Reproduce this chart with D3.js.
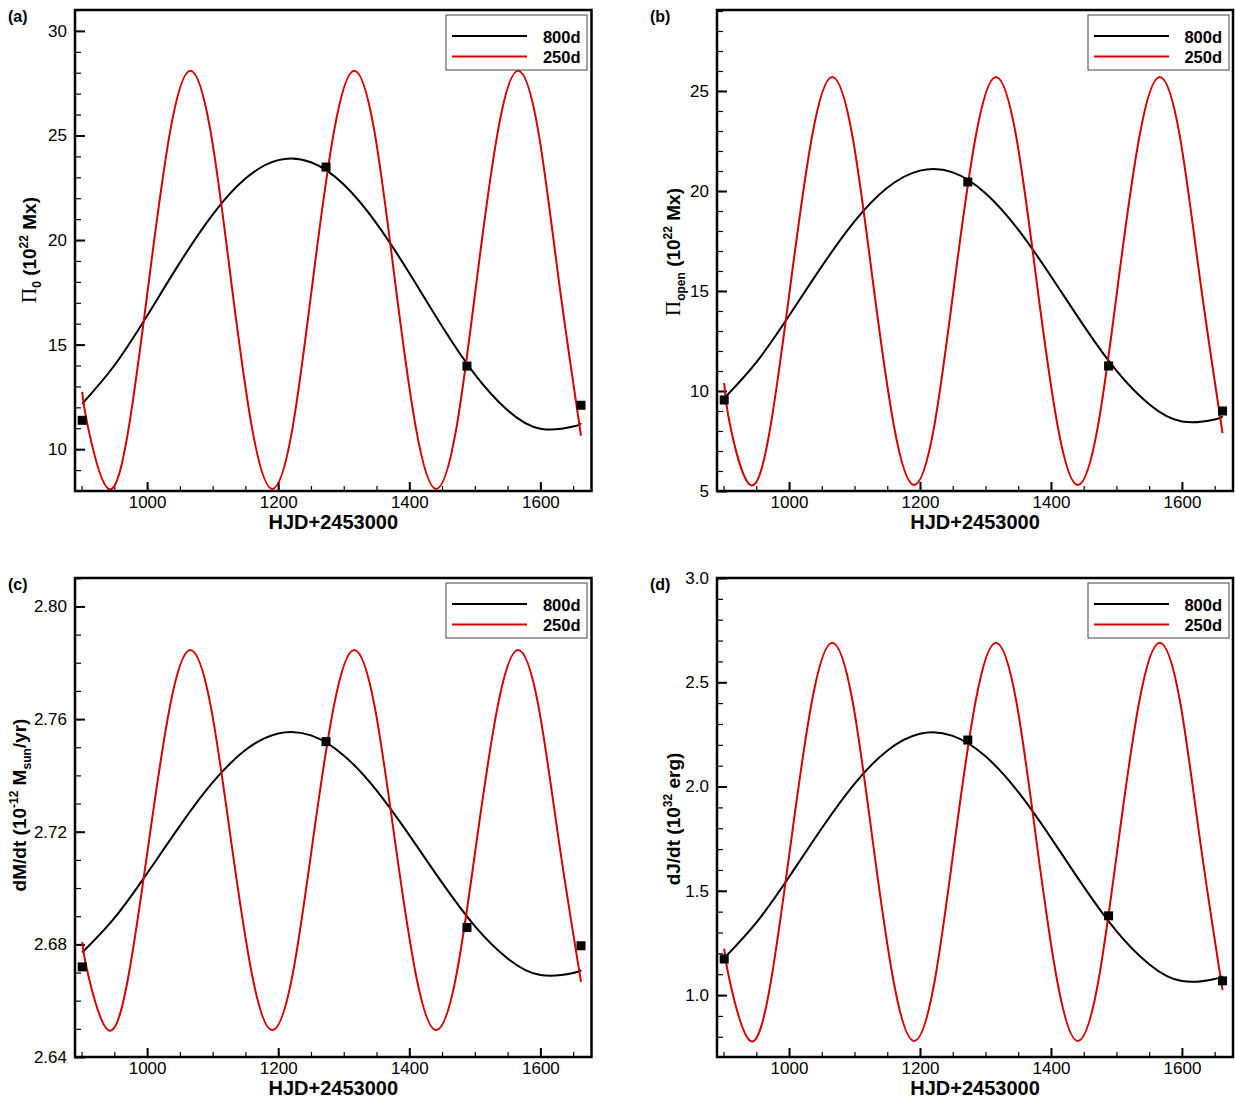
<!DOCTYPE html>
<html lang="en">
<head>
<meta charset="UTF-8">
<title>flux panels</title>
<script src="https://cdn.jsdelivr.net/npm/d3@7"></script>
<style>
  body { margin: 0; background: #fff; }
  svg { display: block; font-family: "Liberation Sans", Arial, sans-serif; }
</style>
</head>
<body>
<script>
// sample days (HJD-2453000)
var blackT = [901, 950, 1000, 1050, 1100, 1150, 1200, 1250, 1300, 1350, 1400, 1450, 1500, 1550, 1600, 1650, 1662];
var redT = [901, 910, 941, 972, 1003, 1035, 1066, 1097, 1128, 1160, 1191, 1222, 1253, 1285, 1316, 1347, 1378, 1410, 1441, 1472, 1503, 1535, 1566, 1597, 1628, 1662];
var dotT = [901, 1273, 1488, 1662];

var seriesNames = ['800d', '250d'];
var xMajor = [1000, 1200, 1400, 1600];

// (a) Phi_0
var phi0Black = [12.17, 14.00, 16.38, 18.92, 21.22, 22.94, 23.82, 23.72, 22.66, 20.80, 18.42, 15.88, 13.58, 11.86, 10.98, 11.08, 11.25];
var phi0Red = [12.74, 11.03, 8.1, 11.03, 18.1, 25.17, 28.1, 25.17, 18.1, 11.03, 8.1, 11.03, 18.1, 25.17, 28.1, 25.17, 18.1, 11.03, 8.1, 11.03, 18.1, 25.17, 28.1, 25.17, 18.1, 10.65];
var phi0Dots = [11.38, 23.49, 13.97, 12.1];
var phi0Ticks = [10, 15, 20, 25, 30];

// (b) Phi_open
var phiOpenBlack = [9.64, 11.43, 13.76, 16.23, 18.48, 20.16, 21.02, 20.93, 19.89, 18.07, 15.74, 13.27, 11.02, 9.34, 8.48, 8.58, 8.74];
var phiOpenRed = [10.4, 8.29, 5.3, 8.29, 15.5, 22.71, 25.7, 22.71, 15.5, 8.29, 5.3, 8.29, 15.5, 22.71, 25.7, 22.71, 15.5, 8.29, 5.3, 8.29, 15.5, 22.71, 25.7, 22.71, 15.5, 7.9];
var phiOpenDots = [9.55, 20.45, 11.25, 9.0];
var phiOpenTicks = [5, 10, 15, 20, 25];

// (c) dM/dt
var mdotBlack = [2.6771, 2.6893, 2.7052, 2.7221, 2.7375, 2.7490, 2.7549, 2.7542, 2.7471, 2.7347, 2.7188, 2.7019, 2.6865, 2.6750, 2.6691, 2.6698, 2.6709];
var mdotRed = [2.6808, 2.6693, 2.6495, 2.6693, 2.717, 2.7647, 2.7845, 2.7647, 2.717, 2.6693, 2.6495, 2.6693, 2.717, 2.7647, 2.7845, 2.7647, 2.717, 2.6693, 2.6495, 2.6693, 2.717, 2.7647, 2.7845, 2.7647, 2.717, 2.6667];
var mdotDots = [2.672, 2.752, 2.686, 2.6795];
var mdotTicks = [2.64, 2.68, 2.72, 2.76, 2.80];

// (d) dJ/dt
var jdotBlack = [1.177, 1.347, 1.566, 1.800, 2.013, 2.172, 2.253, 2.243, 2.145, 1.974, 1.754, 1.520, 1.307, 1.148, 1.067, 1.077, 1.092];
var jdotRed = [1.223, 1.06, 0.78, 1.06, 1.735, 2.41, 2.69, 2.41, 1.735, 1.06, 0.78, 1.06, 1.735, 2.41, 2.69, 2.41, 1.735, 1.06, 0.78, 1.06, 1.735, 2.41, 2.69, 2.41, 1.735, 1.024];
var jdotDots = [1.173, 2.223, 1.38, 1.068];
var jdotTicks = [1.0, 1.5, 2.0, 2.5, 3.0];

var RED = '#d40000';
var xDomain = [890, 1678];

var svg = d3.select('body').append('svg')
  .attr('width', 1235)
  .attr('height', 1101);

var panels = [
  { tag: '(a)', left: 75, right: 591.5, top: 10, bottom: 491,
    yDomain: [8, 31], ticks: phi0Ticks, minor: d3.range(8, 31.01, 1), fmt: d3.format('d'),
    black: phi0Black, red: phi0Red, dots: phi0Dots,
    titleX: 36, titleY: 250,
    title: [{ t: '\u03A0', serif: true }, { t: '0', sub: true }, { t: ' (10' }, { t: '22', sup: true }, { t: ' Mx)' }] },
  { tag: '(b)', left: 717, right: 1233, top: 10, bottom: 491,
    yDomain: [5, 29.05], ticks: phiOpenTicks, minor: d3.range(5, 29.01, 1), fmt: d3.format('d'),
    black: phiOpenBlack, red: phiOpenRed, dots: phiOpenDots,
    titleX: 680, titleY: 252,
    title: [{ t: '\u03A0', serif: true }, { t: 'open', sub: true }, { t: ' (10' }, { t: '22', sup: true }, { t: ' Mx)' }] },
  { tag: '(c)', left: 75, right: 591.5, top: 578, bottom: 1057,
    yDomain: [2.64, 2.8101], ticks: mdotTicks, minor: d3.range(2.64, 2.815, 0.01), fmt: d3.format('.2f'),
    black: mdotBlack, red: mdotRed, dots: mdotDots,
    titleX: 26, titleY: 805,
    title: [{ t: 'dM/dt (10' }, { t: '-12', sup: true }, { t: ' M' }, { t: 'sun', sub: true }, { t: '/yr)' }] },
  { tag: '(d)', left: 717, right: 1233, top: 578, bottom: 1057,
    yDomain: [0.703, 3.0], ticks: jdotTicks, minor: d3.range(0.8, 3.01, 0.1), fmt: d3.format('.1f'),
    black: jdotBlack, red: jdotRed, dots: jdotDots,
    titleX: 680, titleY: 819,
    title: [{ t: 'dJ/dt (10' }, { t: '32', sup: true }, { t: ' erg)' }] }
];

function styleAxis(sel, size, width) {
  sel.select('.domain').remove();
  sel.selectAll('.tick line').attr('stroke', '#000').attr('stroke-width', width);
  sel.attr('font-size', size).attr('font-family', '"Liberation Sans", Arial, sans-serif');
  sel.selectAll('.tick text').attr('fill', '#000');
}

panels.forEach(function (p) {
  var x = d3.scaleLinear().domain(xDomain).range([p.left, p.right]);
  var y = d3.scaleLinear().domain(p.yDomain).range([p.bottom, p.top]);
  var g = svg.append('g');

  // minor ticks
  g.append('g').attr('transform', 'translate(' + p.left + ',0)')
    .call(d3.axisLeft(y).tickValues(p.minor).tickSize(-6).tickFormat(''))
    .call(styleAxis, 17, 1.2);
  g.append('g').attr('transform', 'translate(0,' + p.bottom + ')')
    .call(d3.axisBottom(x).tickValues(d3.range(900, 1651, 50)).tickSize(-5).tickFormat(''))
    .call(styleAxis, 17, 1.2);

  // major ticks
  g.append('g').attr('transform', 'translate(' + p.left + ',0)')
    .call(d3.axisLeft(y).tickValues(p.ticks).tickSize(-10).tickPadding(8).tickFormat(p.fmt))
    .call(styleAxis, 17, 2);
  g.append('g').attr('transform', 'translate(0,' + p.bottom + ')')
    .call(d3.axisBottom(x).tickValues(xMajor).tickSize(-9).tickPadding(5).tickFormat(d3.format('d')))
    .call(styleAxis, 17, 2);

  var line = d3.line()
    .x(function (d) { return x(d[0]); })
    .y(function (d) { return y(d[1]); })
    .curve(d3.curveNatural);

  g.append('path').datum(d3.zip(blackT, p.black))
    .attr('d', line).attr('fill', 'none').attr('stroke', '#000').attr('stroke-width', 2);
  g.append('path').datum(d3.zip(redT, p.red))
    .attr('d', line).attr('fill', 'none').attr('stroke', RED).attr('stroke-width', 2);

  g.selectAll('rect.dot').data(d3.zip(dotT, p.dots)).enter().append('rect')
    .attr('class', 'dot')
    .attr('x', function (d) { return x(d[0]) - 4.5; })
    .attr('y', function (d) { return y(d[1]) - 4.5; })
    .attr('width', 9).attr('height', 9)
    .attr('fill', '#000');

  // frame
  g.append('rect')
    .attr('x', p.left).attr('y', p.top)
    .attr('width', p.right - p.left).attr('height', p.bottom - p.top)
    .attr('fill', 'none').attr('stroke', '#000').attr('stroke-width', 2.5);

  // legend
  var lg = g.append('g');
  lg.append('rect')
    .attr('x', p.left + 371).attr('y', p.top + 5)
    .attr('width', 141).attr('height', 55)
    .attr('fill', '#fff').attr('stroke', '#444').attr('stroke-width', 1);
  [['#000', 26], [RED, 46.5]].forEach(function (s, i) {
    lg.append('line')
      .attr('x1', p.left + 377).attr('x2', p.left + 452)
      .attr('y1', p.top + s[1]).attr('y2', p.top + s[1])
      .attr('stroke', s[0]).attr('stroke-width', 2);
    lg.append('text')
      .attr('x', p.right - 11).attr('y', p.top + s[1] + 6.5)
      .attr('text-anchor', 'end')
      .attr('font-size', 16.5).attr('font-weight', 'bold')
      .text(seriesNames[i]);
  });

  // x title
  g.append('text')
    .attr('x', (p.left + p.right) / 2).attr('y', p.bottom + 38)
    .attr('text-anchor', 'middle')
    .attr('font-size', 20).attr('font-weight', 'bold')
    .text('HJD+2453000');

  // y title
  var t = g.append('text')
    .attr('transform', 'translate(' + p.titleX + ',' + p.titleY + ') rotate(-90)')
    .attr('text-anchor', 'middle')
    .attr('font-size', 19).attr('font-weight', 'bold');
  var shift = 0;
  p.title.forEach(function (part) {
    var want = part.sub ? 5 : (part.sup ? -8 : 0);
    var ts = t.append('tspan').attr('dy', want - shift).text(part.t);
    shift = want;
    if (part.sub || part.sup) ts.attr('font-size', 12);
    if (part.serif) ts.attr('font-family', '"Liberation Serif", "Times New Roman", serif')
      .attr('font-weight', 'normal').attr('font-size', 21);
  });

  // panel tag
  g.append('text')
    .attr('x', p.left - 67).attr('y', p.top + 12)
    .attr('font-size', 16).attr('font-weight', 'bold')
    .text(p.tag);
});
</script>
</body>
</html>
